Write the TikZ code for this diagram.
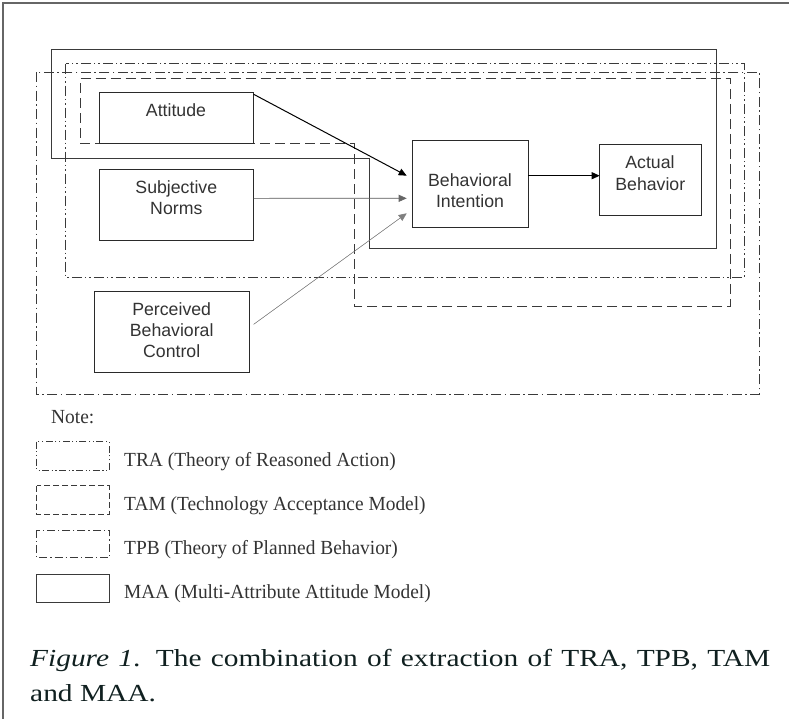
\documentclass[tikz,border=0pt]{standalone}
\usepackage{fontspec}
\setmainfont{Liberation Serif}
\setsansfont{Liberation Sans}
\newfontfamily\capfont[FakeStretch=1.2]{Liberation Serif}
\newfontfamily\legfont[FakeStretch=0.97]{Liberation Serif}
\usetikzlibrary{arrows.meta,calc}
\definecolor{boxc}{HTML}{2A2A2A}
\definecolor{regc}{HTML}{3A3A3A}
\definecolor{txtc}{HTML}{333333}
\definecolor{capc}{HTML}{102020}
\begin{document}
\begin{tikzpicture}[x=1pt,y=-1pt,
  box/.style={draw=boxc, line width=1pt, inner sep=0pt, outer sep=0pt, rectangle},
  btxt/.style={anchor=base, inner sep=0pt, text=txtc, font=\sffamily\fontsize{17.7}{21}\selectfont},
  ltxt/.style={anchor=base west, inner sep=0pt, text=txtc, font=\legfont\fontsize{20}{23}\selectfont},
  maa/.style={draw=regc, line width=0.9pt},
  tra/.style={draw=regc, line width=0.9pt, dash pattern=on 10pt off 3pt on 1.5pt off 3pt on 1.5pt off 3pt},
  tam/.style={draw=regc, line width=0.9pt, dash pattern=on 10pt off 5pt},
  tpb/.style={draw=regc, line width=0.9pt, dash pattern=on 10pt off 3.5pt on 1.5pt off 3.5pt},
  tral/.style={draw=regc, line width=0.9pt, dash pattern=on 7pt off 2.5pt on 1.2pt off 2.5pt on 1.2pt off 2.5pt},
  taml/.style={draw=regc, line width=0.9pt, dash pattern=on 6pt off 3pt},
  tpbl/.style={draw=regc, line width=0.9pt, dash pattern=on 8pt off 3pt on 1.2pt off 3pt},
  arr/.style={-{Triangle[length=8pt,width=7pt]}}
]
\useasboundingbox (0,0) rectangle (789,718);
\fill[white] (0,0) rectangle (789,718);
% outer frame (only top and left visible)
\draw[draw=black!60, line width=1.8pt] (3.3,720) -- (3.3,3.3) -- (792,3.3);

% regions
\draw[maa] (51,49) -- (716,49) -- (716,248) -- (369,248) -- (369,158) -- (51,158) -- cycle;
\draw[tra] (65.7,63.5) rectangle (744.3,277.3);
\draw[tpb] (36.7,72) rectangle (759,394.3);
\draw[tam] (80.5,78.3) -- (730,78.3) -- (730,306) -- (354.3,306) -- (354.3,143.3) -- (80.5,143.3) -- cycle;

% boxes
\node[box, minimum width=154.4pt, minimum height=51.3pt] (att) at (176.5,117.65) {};
\node[box, minimum width=154.4pt, minimum height=71.7pt] (sn) at (176.5,204.85) {};
\node[box, minimum width=154.7pt, minimum height=81.3pt] (pbc) at (171.65,331.65) {};
\node[box, minimum width=116.3pt, minimum height=86.6pt] (bi) at (470.15,184) {};
\node[box, minimum width=102pt, minimum height=70.7pt] (ab) at (650.7,179.65) {};

% box texts
\node[btxt] (attT) at (176,116) {Attitude};
\node[btxt] (snT1) at (176.3,193.3) {Subjective};
\node[btxt] (snT2) at (176.3,214.3) {Norms};
\node[btxt] (pbcT1) at (171.7,315) {Perceived};
\node[btxt] (pbcT2) at (171.7,336.5) {Behavioral};
\node[btxt] (pbcT3) at (171.7,357.7) {Control};
\node[btxt] (biT1) at (470,186.7) {Behavioral};
\node[btxt] (biT2) at (470,207.5) {Intention};
\node[btxt] (abT1) at (650,168.3) {Actual};
\node[btxt] (abT2) at (650.3,190) {Behavior};

% connectors
\draw[arr, draw=black, line width=1pt] ($(att.north east)+(0,2.3)$) -- ($(bi.west)+(-5.3,-8.3)$);
\draw[arr, draw=black!60, line width=0.7pt, fill=black] ($(sn.east)+(0,-6.5)$) -- ($(bi.west)+(-5.3,14.3)$);
\draw[arr, draw=black!50, line width=0.5pt, fill=black] ($(pbc.east)+(4.7,-7.35)$) -- ($(bi.west)+(-5.3,29.3)$);
\coordinate (biout) at ($(bi.east)+(0,-8.3)$);
\draw[arr, draw=black, line width=1pt] (biout) -- (ab.west |- biout);

% legend
\node[ltxt] (note) at (51,423.3) {Note:};
\draw[tral] (36.7,441.7) rectangle (109.3,470);
\draw[taml] (36.7,485.7) rectangle (109.3,514.3);
\draw[tpbl] (36.7,530) rectangle (109.3,557.7);
\draw[draw=regc, line width=1.1pt] (36.7,574.3) rectangle (109.3,602.7);
\node[ltxt] (traL) at (124,466.7) {TRA (Theory of Reasoned Action)};
\node[ltxt] (tamL) at (124,510.7) {TAM (Technology Acceptance Model)};
\node[ltxt] (tpbL) at (124,554) {TPB (Theory of Planned Behavior)};
\node[ltxt] (maaL) at (124,598.3) {MAA (Multi-Attribute Attitude Model)};

% caption
\node[anchor=base west, inner sep=0pt, text width=740pt, align=justify, text=capc,
      font=\capfont\fontsize{24.5}{35.7}\selectfont] (cap) at (30,666)
  {\textit{Figure 1}. The combination of extraction of TRA, TPB, TAM\linebreak and MAA.};
\end{tikzpicture}
\end{document}
